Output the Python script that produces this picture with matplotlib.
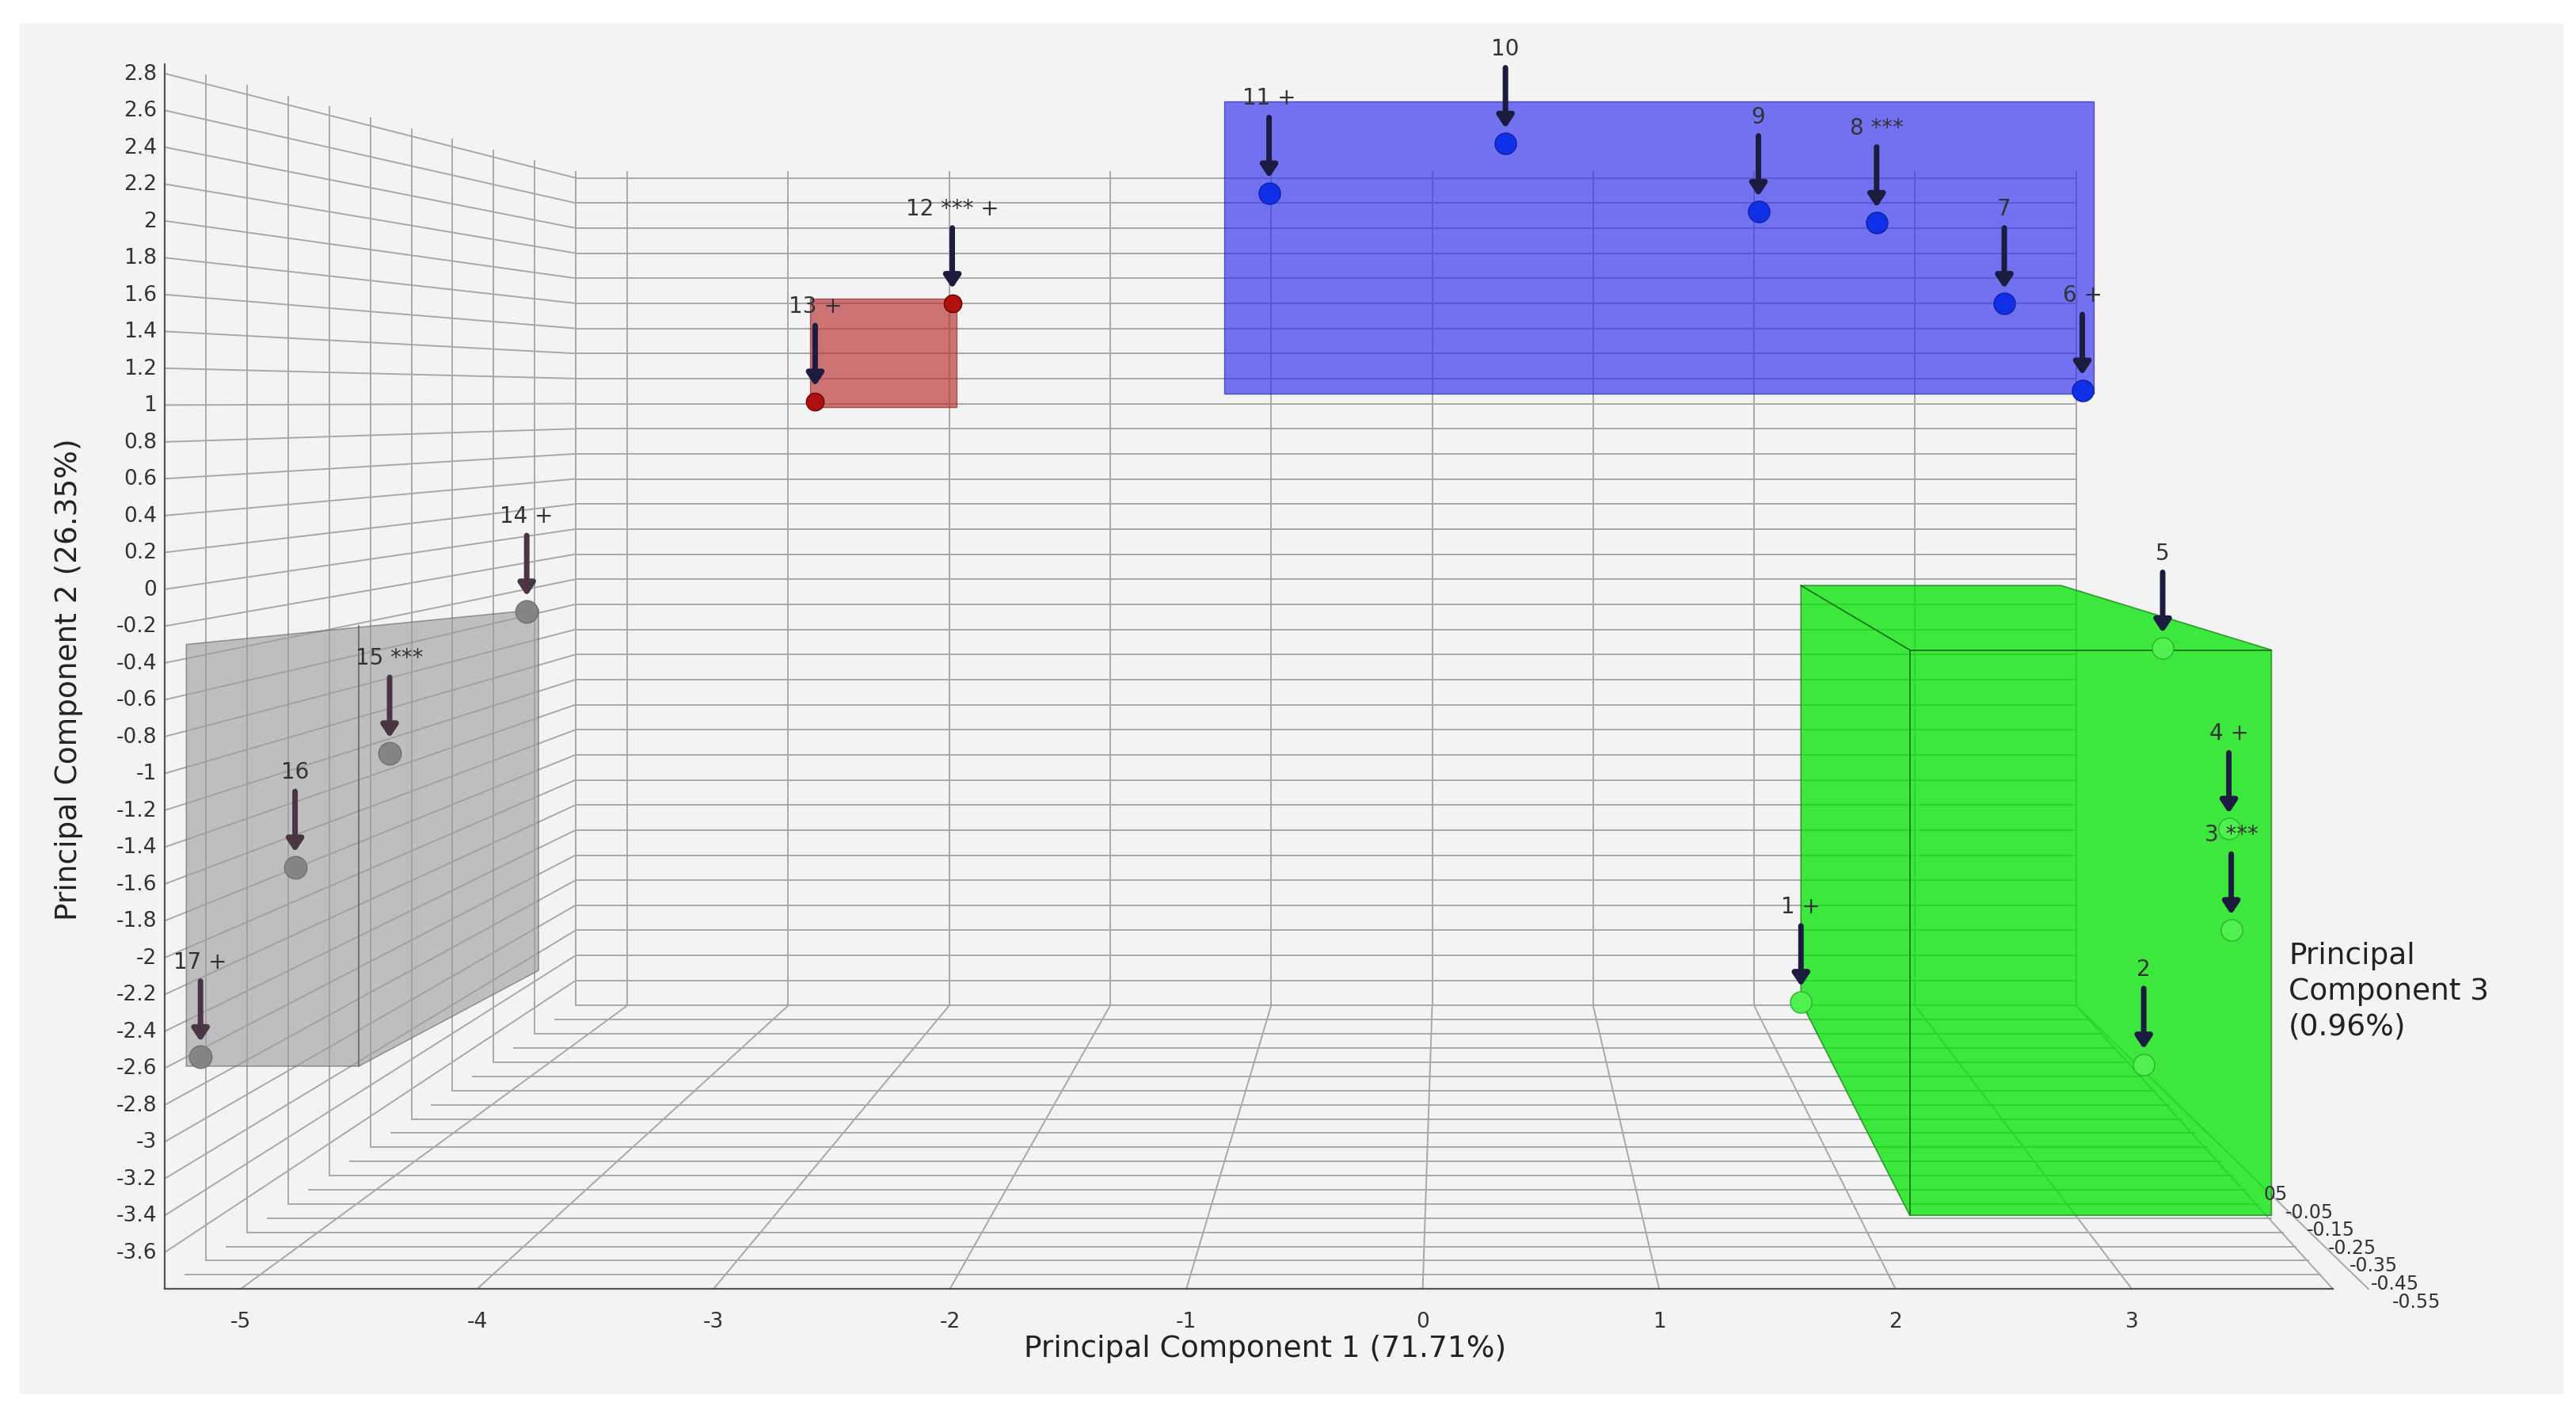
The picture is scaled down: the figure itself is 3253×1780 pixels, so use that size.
import matplotlib
matplotlib.use("Agg")
import matplotlib.pyplot as plt
from matplotlib.patches import Polygon, Rectangle
import numpy as np

# ---------------- data ----------------
labels = ["1 +", "2", "3 ***", "4 +", "5", "6 +", "7", "8 ***", "9", "10", "11 +",
          "12 *** +", "13 +", "14 +", "15 ***", "16", "17 +"]
pc1 = [1.60, 3.05, 3.42, 3.41, 3.13, 2.79, 2.46, 1.92, 1.42, 0.35, -0.65,
       -1.99, -2.57, -3.79, -4.37, -4.77, -5.17]
pc2 = [-2.24, -2.58, -1.85, -1.30, -0.32, 1.08, 1.55, 1.99, 2.05, 2.42, 2.15,
       1.55, 1.02, -0.12, -0.89, -1.51, -2.54]
group = ["g", "g", "g", "g", "g", "b", "b", "b", "b", "b", "b",
         "r", "r", "k", "k", "k", "k"]
y_ticks = [round(v, 1) for v in np.arange(2.8, -3.61, -0.2)]
x_ticks = [-5, -4, -3, -2, -1, 0, 1, 2, 3]
pc3_ticks = ["05", "-0.05", "-0.15", "-0.25", "-0.35", "-0.45", "-0.55"]

gray_hull = [(-5.23, -0.30), (-3.74, -0.11), (-3.74, -2.07), (-4.50, -2.59), (-5.23, -2.59)]
green_hull = [(1.60, 0.02), (2.70, 0.02), (3.59, -0.33), (3.59, -3.40), (2.06, -3.40), (1.60, -2.24)]
red_box = (-2.59, 0.99, -1.97, 1.58)
blue_box = (-0.84, 1.06, 2.84, 2.65)

# ---------------- geometry ----------------
W, H = 1568, 868
X0, SX = 866, 143.9
Y0, SY = 363, 113.3
CX, CY, SB = 884, 247, 0.681

def P(u, v, d=0.0):
    xf = X0 + SX * u
    yf = Y0 - SY * v
    s = 1 - d * (1 - SB)
    return CX + s * (xf - CX), CY + s * (yf - CY)

fig = plt.figure(figsize=(32.53, 17.81), dpi=100)
ax = fig.add_axes([0, 0, 1, 1])
ax.set_xlim(0, W)
ax.set_ylim(H, 0)
ax.axis("off")
ax.add_patch(Rectangle((12, 15), 1548, 843, color="#f3f3f3", zorder=0))

gc = "#a8a8a8"
lw = 1.4
UL, UR = -5.32, 3.85
VB, VT = -3.8, 2.85

def line(a, b, **kw):
    ax.plot([a[0], b[0]], [a[1], b[1]], color=kw.get("c", gc), lw=kw.get("lw", lw),
            zorder=kw.get("z", 1))

# back wall
for u in range(-5, 5):
    line(P(u, VB, 1), P(u, VT, 1))
line(P(UL, VB, 1), P(UL, VT, 1))
for v in y_ticks:
    line(P(UL, v, 1), P(4.0, v, 1))
# left wall
for k in range(0, 11):
    d = k / 10
    line(P(UL, VB, d), P(UL, VT, d))
for v in y_ticks:
    line(P(UL, v, 0), P(UL, v, 1))
# floor
for u in range(-5, 5):
    line(P(u, VB, 0), P(u, VB, 1))
for k in range(0, 21):
    d = k / 20
    line(P(UL, VB, d), P(UR + (4.0 - UR) * d, VB, d))
line(P(UR, VB, 0), P(4.0, VB, 1))
# front axes
line(P(UL, VB, 0), P(UL, VT, 0), c="#555555", lw=1.6)
line(P(UL, VB, 0), P(UR, VB, 0), c="#555555", lw=1.6)

# tick labels
for v in y_ticks:
    x, y = P(UL, v, 0)
    txt = f"{v:g}" if v != 0 else "0"
    ax.text(x - 5, y, txt, ha="right", va="center", fontsize=19, color="#333333")
for u in x_ticks:
    x, y = P(u, VB, 0)
    ax.text(x, y + 20, str(u), ha="center", va="center", fontsize=19, color="#333333")
for i, t in enumerate(pc3_ticks):
    ax.text(1378 + i * 13, 735 + i * 11, t, fontsize=17, color="#333333",
            ha="left", va="center")

ax.text(770, 830, "Principal Component 1 (71.71%)", ha="center", va="center", fontsize=27, color="#222222")
ax.text(42, 418, "Principal Component 2 (26.35%)", ha="center", va="center", rotation=90,
        fontsize=27, color="#222222")
ax.text(1393, 610, "Principal\nComponent 3\n(0.96%)", ha="left", va="center", fontsize=27,
        color="#222222", linespacing=1.3)

def to_px(pts):
    return [P(u, v, 0) for u, v in pts]

# boxes
ax.add_patch(Polygon(to_px(gray_hull), closed=True, facecolor="#9c9c9c", alpha=0.6,
                     edgecolor="#666666", lw=1.2, zorder=2))
line(P(-4.50, -0.20), P(-4.50, -2.59), c="#666666", lw=1.2, z=3)
u0, v0, u1, v1 = red_box
ax.add_patch(Polygon(to_px([(u0, v0), (u1, v0), (u1, v1), (u0, v1)]), closed=True,
                     facecolor="#b83030", alpha=0.65, edgecolor="#7a2020", lw=1, zorder=2))
u0, v0, u1, v1 = blue_box
ax.add_patch(Polygon(to_px([(u0, v0), (u1, v0), (u1, v1), (u0, v1)]), closed=True,
                     facecolor="#3535f0", alpha=0.68, edgecolor="#2020a0", lw=1, zorder=2))
ax.add_patch(Polygon(to_px(green_hull), closed=True, facecolor="#00e400", alpha=0.75,
                     edgecolor="#108010", lw=1.2, zorder=2))
for a, b in [((1.60, 0.02), (2.06, -0.33)), ((2.06, -0.33), (3.59, -0.33)),
             ((2.06, -0.33), (2.06, -3.40))]:
    line(P(*a), P(*b), c="#107010", lw=1.2, z=3)

colors = {"g": "#50f050", "b": "#1030e8", "r": "#b01010", "k": "#858585"}
edges = {"g": "#30b030", "b": "#1020a0", "r": "#700000", "k": "#707070"}
sizes = {"g": 380, "b": 380, "r": 260, "k": 420}
for lab, u, v, g in zip(labels, pc1, pc2, group):
    x, y = P(u, v, 0)
    ax.scatter([x], [y], s=sizes[g], color=colors[g], edgecolor=edges[g], zorder=5)
    ac = "#4a3545" if g == "k" else "#1c1c40"
    ax.annotate("", xy=(x, y - 8), xytext=(x, y - 48),
                arrowprops=dict(arrowstyle="-|>,head_width=0.6,head_length=0.9",
                                color=ac, lw=5), zorder=6)
    ax.text(x, y - 52, lab, ha="center", va="bottom", fontsize=20, color="#333333", zorder=6)

fig.savefig("out.png", dpi=100)
